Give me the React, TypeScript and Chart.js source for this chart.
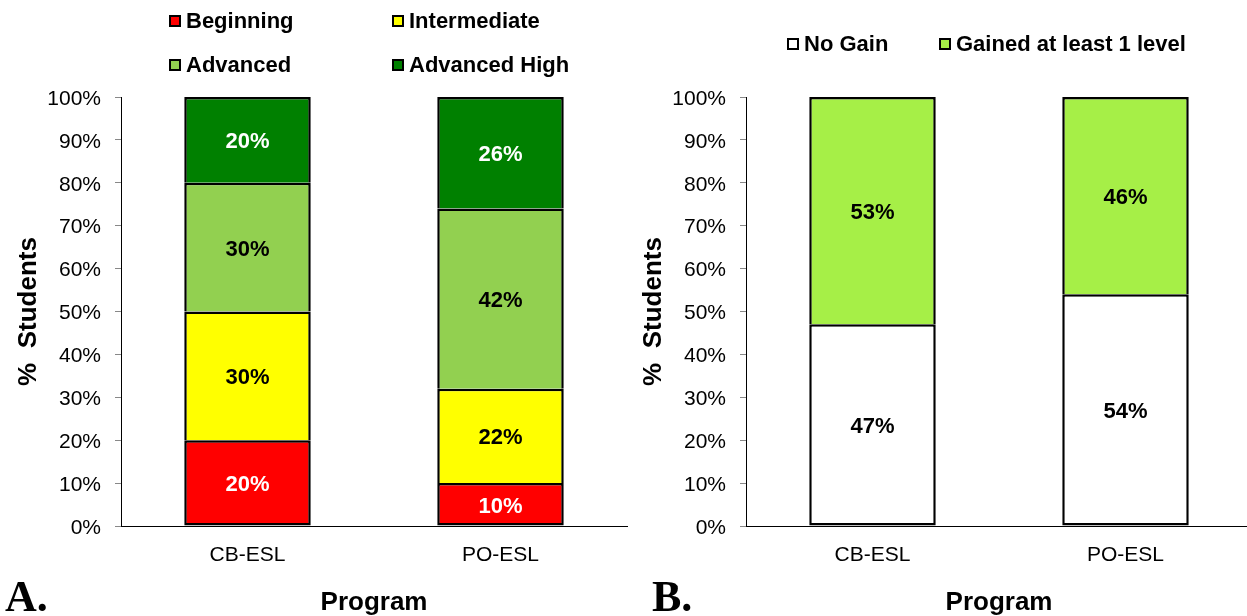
import React, { useEffect, useRef } from "react";
import { Chart, registerables } from "chart.js";

Chart.register(...registerables);

// ---- data ----
const programs = ["CB-ESL", "PO-ESL"];
const levelNames = ["Beginning", "Intermediate", "Advanced", "Advanced High"];
const beginning = [20, 10];
const intermediate = [30, 22];
const advanced = [30, 42];
const advancedHigh = [20, 26];
const gainNames = ["No Gain", "Gained at least 1 level"];
const noGain = [47, 54];
const gainedOne = [53, 46];
const yTickValues = [0, 10, 20, 30, 40, 50, 60, 70, 80, 90, 100];
const yAxisTitle = "%  Students";
const xAxisTitle = "Program";
const panelLetters = ["A.", "B."];

// ---- styles ----
const FONT = "'Liberation Sans', Arial, Helvetica, sans-serif";
const levelColors = ["#FF0000", "#FFFF00", "#92D050", "#008000"];
const levelLabelColors = ["#FFFFFF", "#000000", "#000000", "#FFFFFF"];
const gainColors = ["#FFFFFF", "#A6EF47"];
const gainLabelColors = ["#000000", "#000000"];

const valueLabels = {
  id: "valueLabels",
  afterDatasetsDraw(chart: any) {
    const ctx = chart.ctx;
    ctx.save();
    ctx.font = `bold 22px ${FONT}`;
    ctx.textAlign = "center";
    ctx.textBaseline = "middle";
    chart.data.datasets.forEach((ds: any, i: number) => {
      const meta = chart.getDatasetMeta(i);
      meta.data.forEach((bar: any, j: number) => {
        const { x, y, base } = bar.getProps(["x", "y", "base"], true);
        ctx.fillStyle = ds.labelColor;
        ctx.fillText(ds.data[j] + "%", x, (y + base) / 2 + 2.5);
      });
    });
    ctx.restore();
  },
};

function borderFor(i: number) {
  return {
    left: 2.5,
    right: 2.5,
    top: 2.5,
    bottom: i === 0 ? 2.5 : 0,
  };
}

function makeConfig(names: string[], series: number[][], colors: string[], labelColors: string[]): any {
  return {
    type: "bar",
    data: {
      labels: programs,
      datasets: series.map((d, i) => ({
        label: names[i],
        data: d,
        backgroundColor: colors[i],
        borderColor: "#000000",
        borderWidth: borderFor(i),
        borderSkipped: false,
        inflateAmount: 0,
        barPercentage: 0.5,
        categoryPercentage: 1,
        labelColor: labelColors[i],
      })),
    },
    options: {
      responsive: false,
      animation: false,
      layout: { padding: { left: 0, right: 3, top: 97, bottom: 0 } },
      plugins: { legend: { display: false }, tooltip: { enabled: false } },
      scales: {
        x: {
          stacked: true,
          grid: { display: false, drawTicks: false },
          border: { display: true, color: "#000000", width: 1 },
          ticks: { font: { family: FONT, size: 21 }, color: "#000000", padding: 17 },
          title: {
            display: true,
            text: xAxisTitle,
            font: { family: FONT, size: 26, weight: "bold" },
            color: "#000000",
            padding: { top: 0, bottom: -2 },
          },
          afterFit: (s: any) => {
            s.height = 90;
          },
        },
        y: {
          stacked: true,
          min: 0,
          max: 100,
          afterBuildTicks: (s: any) => {
            s.ticks = yTickValues.map((v) => ({ value: v }));
          },
          ticks: {
            callback: (v: any) => v + "%",
            font: { family: FONT, size: 21 },
            color: "#000000",
            padding: 14,
            labelOffset: 2,
          },
          grid: { drawOnChartArea: false, drawTicks: true, tickLength: 6, color: "#888888" },
          border: { display: true, color: "#000000", width: 1 },
          title: {
            display: true,
            text: yAxisTitle,
            font: { family: FONT, size: 26, weight: "bold" },
            color: "#000000",
            padding: { top: 13, bottom: 0 },
          },
          afterFit: (s: any) => {
            s.width = 121;
          },
        },
      },
    },
    plugins: [valueLabels],
  };
}

function BarChart(props: { config: any; left: number }) {
  const ref = useRef<HTMLCanvasElement | null>(null);
  useEffect(() => {
    if (!ref.current) return;
    const chart = new Chart(ref.current, props.config);
    return () => chart.destroy();
  }, []);
  return (
    <div style={{ position: "absolute", left: props.left, top: 0, width: 630, height: 616 }}>
      <canvas ref={ref} width={630} height={616} style={{ width: 630, height: 616, display: "block" }} />
    </div>
  );
}

function LegendItem(props: { label: string; color: string; x: number; y: number }) {
  return (
    <div
      style={{
        position: "absolute",
        left: props.x,
        top: props.y - 15,
        height: 30,
        display: "flex",
        alignItems: "center",
        whiteSpace: "nowrap",
        fontFamily: FONT,
        fontWeight: "bold",
        fontSize: 22,
        color: "#000",
      }}
    >
      <span
        style={{
          display: "inline-block",
          width: 8,
          height: 8,
          border: "2px solid #000",
          background: props.color,
          marginRight: 5,
        }}
      />
      {props.label}
    </div>
  );
}

const letterStyle: any = {
  position: "absolute",
  top: 575,
  fontFamily: "'Liberation Serif', 'Times New Roman', serif",
  fontWeight: "bold",
  fontSize: 44,
  lineHeight: "44px",
  color: "#000",
};

export default function App() {
  const leftConfig = makeConfig(levelNames, [beginning, intermediate, advanced, advancedHigh], levelColors, levelLabelColors);
  const rightConfig = makeConfig(gainNames, [noGain, gainedOne], gainColors, gainLabelColors);
  const levelPos = [
    { x: 169, y: 21 },
    { x: 392, y: 21 },
    { x: 169, y: 65 },
    { x: 392, y: 65 },
  ];
  const gainPos = [
    { x: 787, y: 44 },
    { x: 939, y: 44 },
  ];
  return (
    <div
      style={{
        position: "fixed",
        left: 0,
        top: 0,
        width: 1247,
        height: 616,
        overflow: "hidden",
        background: "#fff",
      }}
    >
      <BarChart config={leftConfig} left={0} />
      <BarChart config={rightConfig} left={625} />
      {levelNames.map((n, i) => (
        <LegendItem key={n} label={n} color={levelColors[i]} x={levelPos[i].x} y={levelPos[i].y} />
      ))}
      {gainNames.map((n, i) => (
        <LegendItem key={n} label={n} color={gainColors[i]} x={gainPos[i].x} y={gainPos[i].y} />
      ))}
      <div style={{ ...letterStyle, left: 5 }}>{panelLetters[0]}</div>
      <div style={{ ...letterStyle, left: 652 }}>{panelLetters[1]}</div>
    </div>
  );
}
